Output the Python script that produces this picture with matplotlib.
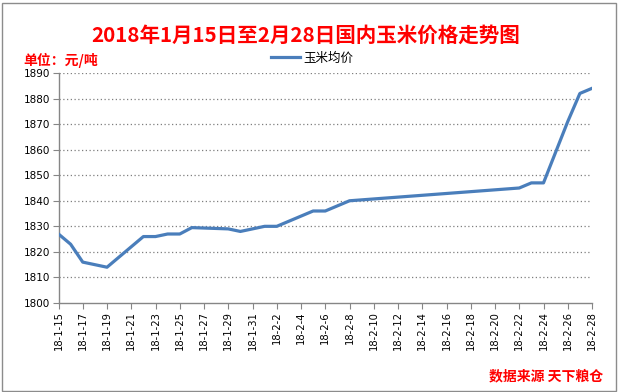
import matplotlib
matplotlib.use("Agg")
import matplotlib.pyplot as plt
import pandas as pd
import numpy as np
from matplotlib.patches import Rectangle

plt.rcParams['font.family'] = ['Noto Sans CJK SC', 'DejaVu Sans']

# ---- data ----
dates = ["2018-01-15", "2018-01-16", "2018-01-17", "2018-01-19", "2018-01-22",
         "2018-01-23", "2018-01-24", "2018-01-25", "2018-01-26", "2018-01-29",
         "2018-01-30", "2018-01-31", "2018-02-01", "2018-02-02", "2018-02-05",
         "2018-02-06", "2018-02-08", "2018-02-22", "2018-02-23", "2018-02-24",
         "2018-02-26", "2018-02-27", "2018-02-28"]
prices = [1827, 1823, 1816, 1814, 1826,
          1826, 1827, 1827, 1829.5, 1829,
          1828, 1829, 1830, 1830, 1836,
          1836, 1840, 1845, 1847, 1847,
          1871, 1882, 1884]
series_name = "玉米均价"
title = "2018年1月15日至2月28日国内玉米价格走势图"
unit_label = "单位：元/吨"
source_label = "数据来源 天下粮仓"
y_ticks = list(range(1800, 1891, 10))
start, end = "2018-01-15", "2018-02-28"

d = pd.to_datetime(dates)
t0 = pd.Timestamp(start)
x = np.array([(v - t0).days for v in d])
ndays = (pd.Timestamp(end) - t0).days
tick_days = list(range(0, ndays + 1, 2))
tick_dates = [t0 + pd.Timedelta(days=k) for k in tick_days]
tick_labels = [f"{t.year % 100}-{t.month}-{t.day}" for t in tick_dates]

W, H = 619, 392
fig = plt.figure(figsize=(W / 100, H / 100), dpi=100)
fig.patch.set_facecolor("white")
fig.add_artist(Rectangle((1.5 / W, 1.5 / H), (W - 5) / W, (H - 4) / H, transform=fig.transFigure,
                         fill=False, edgecolor="#8c8c8c", linewidth=1.0))

ax = fig.add_axes([58.5 / W, 1 - 303 / H, (592 - 58.5) / W, (303 - 73) / H])
ax.plot(x, prices, color="#4A7EBB", linewidth=2.3, solid_joinstyle="round", label=series_name, zorder=3)

ax.set_xlim(0, ndays)
ax.set_ylim(1800, 1890)
ax.set_yticks(y_ticks)
ax.set_yticklabels([str(v) for v in y_ticks], fontsize=7.5, family=['DejaVu Sans'])
ax.set_xticks(tick_days)
ax.set_xticklabels(tick_labels, rotation=90, fontsize=7.2, family=['DejaVu Sans'])
ax.tick_params(axis='both', direction='out', length=4, color="#868686", width=0.8, pad=2)
for s in ["top", "right"]:
    ax.spines[s].set_visible(False)
for s in ["left", "bottom"]:
    ax.spines[s].set_color("#868686")
    ax.spines[s].set_linewidth(1.0)
for yv in y_ticks[1:]:
    ax.axhline(yv, color="#7f7f7f", linestyle=(0, (1, 2)), linewidth=0.9, zorder=1)

fig.text(306 / W, 1 - 35.5 / H, title, color="red", fontsize=14.8, fontweight="bold",
         ha="center", va="center")
fig.text(23 / W, 1 - 60 / H, unit_label, color="red", fontsize=10, fontweight="bold",
         ha="left", va="center")
fig.text(603 / W, 1 - 376 / H, source_label, color="red", fontsize=10, fontweight="bold",
         ha="right", va="center")

leg = ax.legend(loc="center left", bbox_to_anchor=(271 / W, 1 - 58 / H), bbox_transform=fig.transFigure,
                frameon=False, fontsize=9, handlelength=2.3, handletextpad=0.3, borderpad=0,
                borderaxespad=0)

fig.savefig("out.png", dpi=100, facecolor="white")
